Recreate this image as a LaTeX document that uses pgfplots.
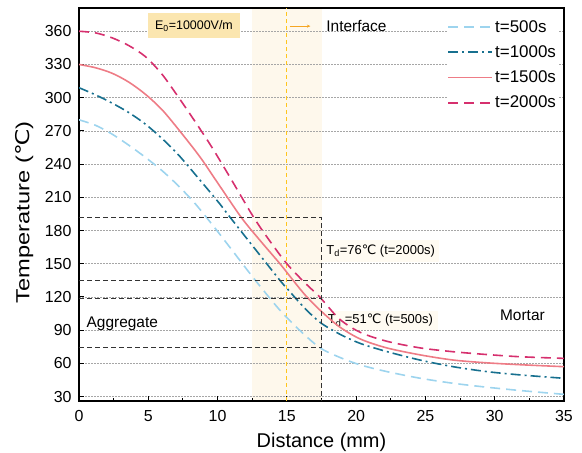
\documentclass[border=0pt]{standalone}
\usepackage{pgfplots}
\pgfplotsset{compat=1.18}
\usepackage{fontspec}
\usepackage{graphicx}
\usetikzlibrary{arrows.meta}
\setmainfont{Liberation Sans}
\newfontfamily\dejavu{DejaVu Sans}
\definecolor{cA}{HTML}{9DD4EE}
\definecolor{cB}{HTML}{17708F}
\definecolor{cC}{HTML}{EE7C86}
\definecolor{cD}{HTML}{D6306E}
\definecolor{shadec}{HTML}{FEF8EC}
\definecolor{yel}{HTML}{FFC61E}
\definecolor{arr}{HTML}{F5A623}
\definecolor{efill}{HTML}{FBE6B0}
\definecolor{tdfill}{HTML}{FFFBF2}
\begin{document}
\begin{tikzpicture}
\begin{axis}[
  set layers,
  scale only axis, width=485bp, height=393bp,
  xmin=0, xmax=35, ymin=26, ymax=381,
  xtick={0,5,...,35}, ytick={30,60,...,360},
  minor x tick num=1,
  tick align=inside, xtick pos=bottom, ytick pos=left,
  major tick length=5bp, minor tick length=3bp,
  axis line style={line width=1.2bp},
  every tick/.style={black, line width=1bp},
  ymajorgrids,
  grid style={black!35, dash pattern=on 1.5bp off 1.5bp, line width=0.6bp},
  tick label style={font=\fontsize{16}{16}\selectfont},
  yticklabel style={xshift=-4bp},
  xticklabel style={yshift=-6bp},
  /pgf/number format/assume math mode=true,
  xlabel={Distance (mm)},
  xlabel style={font=\fontsize{20}{20}\selectfont, at={(axis description cs:0.5,-0.105)}, anchor=center},
  ylabel={\scalebox{1.25}[1]{Temperature ({\dejavu ℃})}},
  ylabel style={font=\fontsize{19}{19}\selectfont, at={(axis description cs:-0.113,0.48)}, anchor=center, rotate=0},
  legend style={at={(0.99,0.977)}, anchor=north east, draw=none, fill=white,
    font=\fontsize{17}{17}\selectfont, row sep=8bp, inner sep=1bp},
  legend cell align=left,
  legend image code/.code={\draw[#1] (0bp,0bp) -- (44bp,0bp);},
]
\begin{pgfonlayer}{axis background}
\fill[shadec] (axis cs:12.5,26) rectangle (axis cs:17.5,381);
\end{pgfonlayer}

\node[fill=tdfill, anchor=west, minimum height=22bp, minimum width=116bp, inner xsep=4bp, font=\fontsize{13}{13}\selectfont] at (axis cs:17.55,161.5) {T\textsubscript{d}=76{\dejavu ℃} (t=2000s)};
\node[fill=tdfill, anchor=west, minimum height=18bp, minimum width=116bp, inner xsep=4bp, font=\fontsize{13}{13}\selectfont] at (axis cs:17.55,99) {T\textsubscript{d} =51{\dejavu ℃} (t=500s)};

\draw[yel, dash pattern=on 4bp off 3bp, line width=1bp] (axis cs:15,26) -- (axis cs:15,381);

\addplot[cA, line width=1.6bp, dash pattern=on 10bp off 6bp, smooth] coordinates {
(0,280) (1.2,275) (2.4,267) (3.6,257) (4.8,246) (6,234) (7.2,220) (8.4,204) (9.7,184) (11,163) (12.6,137) (14.5,108) (16,89) (17.4,74) (18.8,65.5) (20.3,58.6) (22.2,52.6) (24.6,46.6) (27,42) (29.4,38.5) (31.8,35.5) (35,32)};
\addlegendentry{t=500s}
\addplot[cB, line width=1.6bp, dash pattern=on 10bp off 4bp on 2bp off 4bp, smooth] coordinates {
(0,309) (1.2,302.5) (2.4,295) (3.6,286.5) (4.8,276) (6,263) (7.2,248) (8.7,226) (10.1,205) (10.9,192) (12.6,165) (14.5,135) (15.06,127) (16.2,111) (17.4,97) (18.8,86.5) (20.3,78) (22.2,70.7) (24.6,63) (27,57) (29.4,52.6) (31.8,49.6) (35,46.5)};
\addlegendentry{t=1000s}
\addplot[cC, line width=1.6bp, smooth] coordinates {
(0,330) (1.2,327) (2.4,322) (3.6,314) (4.8,303) (6,289) (7.2,271) (8.7,247) (9.9,225) (11.7,192) (13,172) (14.5,150) (15.2,139) (16.3,122) (17.4,108) (18.8,93) (20.3,82) (22.2,74) (24.6,67.7) (27,63) (29.4,60.5) (31.8,58.8) (35,57)};
\addlegendentry{t=1500s}
\addplot[cD, line width=1.6bp, dash pattern=on 10bp off 6bp, smooth] coordinates {
(0,360) (1.2,358.5) (2.4,354) (3.6,347) (4.8,337) (6,321) (7.2,300) (8.4,278) (9.6,255) (10.9,228) (12.6,192) (13.8,170) (15,150) (16.2,134) (17.4,119.5) (18.8,100) (20.3,88) (22.2,80) (24.6,74) (27,70.5) (29.4,68) (31.8,66) (35,64.5)};
\addlegendentry{t=2000s}

\draw[black!80, dash pattern=on 5bp off 3bp, line width=1bp] (axis cs:0,191.5) -- (axis cs:17.5,191.5) -- (axis cs:17.5,26);
\draw[black!80, dash pattern=on 5bp off 3bp, line width=1bp] (axis cs:0,134.5) -- (axis cs:17.5,134.5);
\draw[black!80, dash pattern=on 5bp off 3bp, line width=1bp] (axis cs:0,118.5) -- (axis cs:17.5,118.5);
\draw[black!80, dash pattern=on 5bp off 3bp, line width=1bp] (axis cs:0,74) -- (axis cs:17.5,74);

\node[fill=efill, minimum width=92bp, minimum height=25bp, inner sep=0pt, font=\fontsize{12.5}{12.5}\selectfont] at (axis cs:8.3,365) {E\textsubscript{0}=10000V/m};
\draw[arr, line width=0.9bp, -{Stealth[length=3.5bp,width=3bp]}] (axis cs:15.2,364.6) -- (axis cs:16.7,364.6);
\node[anchor=west, font=\fontsize{15.5}{15.5}\selectfont] at (axis cs:17.6,364.6) {Interface};
\node[anchor=west, font=\fontsize{15.5}{15.5}\selectfont] at (axis cs:0.3,96) {Aggregate};
\node[font=\fontsize{15.5}{15.5}\selectfont] at (axis cs:32,103) {Mortar};
\end{axis}
\pgfresetboundingbox
\path (-79bp,-52bp) rectangle (503bp,401bp);
\end{tikzpicture}
\end{document}
